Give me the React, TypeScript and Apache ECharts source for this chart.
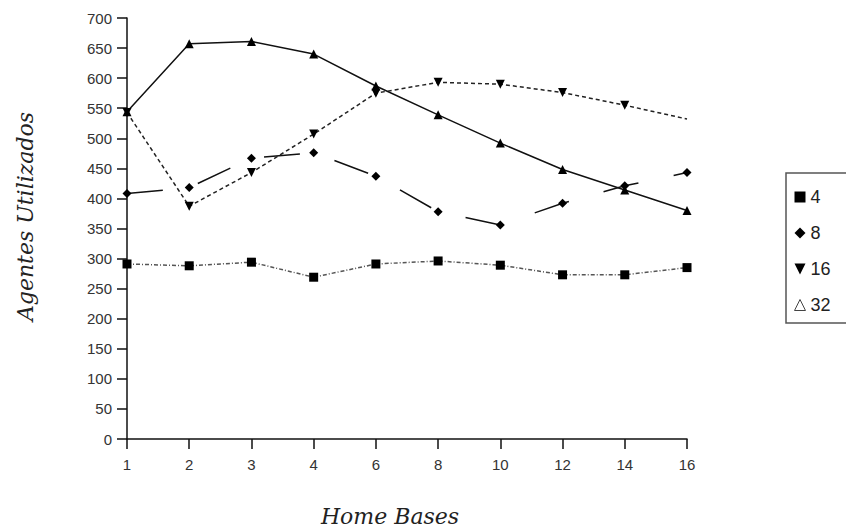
import React, { useEffect, useRef } from "react";
import * as echarts from "echarts";

const homeBases = ["1", "2", "3", "4", "6", "8", "10", "12", "14", "16"];
const s4 = [291, 288, 294, 269, 291, 296, 289, 273, 273, 285];
const s8 = [408, 418, 467, 476, 437, 378, 356, 392, 421, 443];
const s16 = [543, 387, 443, 507, 575, 593, 590, 576, 555, 532];
const s32 = [544, 657, 661, 640, 587, 539, 492, 448, 414, 380];
const yMin = 0;
const yMax = 700;
const yStep = 50;

const downTri = "path://M0,0 L10,0 L5,10 Z";

export default function App() {
  const ref = useRef<HTMLDivElement>(null);
  useEffect(() => {
    if (!ref.current) return;
    const chart = echarts.init(ref.current, null, { renderer: "svg" });
    const sans = "Liberation Sans";
    const serif = "DejaVu Serif";
    chart.setOption({
      animation: false,
      backgroundColor: "#ffffff",
      grid: {
        left: 127,
        top: 18,
        width: 560,
        height: 421,
        containLabel: false,
        outerBoundsMode: "none",
      },
      xAxis: {
        type: "category",
        data: homeBases,
        boundaryGap: false,
        name: "Home Bases",
        nameLocation: "middle",
        nameGap: 66,
        nameTextStyle: {
          fontFamily: serif,
          fontStyle: "italic",
          fontSize: 22,
          color: "#222",
          padding: [0, 34, 0, 0],
        },
        axisLine: { lineStyle: { color: "#111", width: 1.5 } },
        axisTick: { alignWithLabel: true, length: 10, lineStyle: { color: "#111", width: 1.5 } },
        axisLabel: { fontFamily: sans, fontSize: 15, color: "#333", margin: 18 },
        splitLine: { show: false },
      },
      yAxis: {
        type: "value",
        min: yMin,
        max: yMax,
        interval: yStep,
        name: "Agentes Utilizados",
        nameLocation: "middle",
        nameGap: 91,
        nameRotate: 90,
        nameTextStyle: {
          fontFamily: serif,
          fontStyle: "italic",
          fontSize: 22,
          color: "#222",
          padding: [0, 0, 0, 24],
        },
        axisLine: { show: true, lineStyle: { color: "#111", width: 1.5 } },
        axisTick: { show: true, length: 10, lineStyle: { color: "#111", width: 1.5 } },
        axisLabel: { fontFamily: sans, fontSize: 15, color: "#333", margin: 15 },
        splitLine: { show: false },
      },
      graphic: [
        {
          type: "rect",
          shape: { x: 786, y: 173, width: 120, height: 150 },
          style: { fill: "none", stroke: "#555", lineWidth: 1.5 },
          silent: true,
        },
      ],
      legend: {
        orient: "vertical",
        left: 786,
        top: 173,
        padding: [14, 4, 8, 8],
        itemWidth: 11,
        itemHeight: 11,
        itemGap: 16,
        textStyle: { fontFamily: sans, fontSize: 18, lineHeight: 20, color: "#222" },
        data: [
          { name: "4", icon: "rect", itemStyle: { color: "#000" } },
          { name: "8", icon: "diamond", itemStyle: { color: "#000" } },
          { name: "16", icon: downTri, itemStyle: { color: "#000" } },
          {
            name: "32",
            icon: "triangle",
            itemStyle: { color: "#fff", borderColor: "#444", borderWidth: 1 },
          },
        ],
      },
      series: [
        {
          name: "4",
          type: "line",
          data: s4,
          symbol: "rect",
          symbolSize: 9,
          itemStyle: { color: "#000" },
          lineStyle: { color: "#555", width: 1.5, type: [4, 2, 1, 2] },
        },
        {
          name: "8",
          type: "line",
          data: s8,
          symbol: "diamond",
          symbolSize: 9,
          itemStyle: { color: "#000" },
          lineStyle: { color: "#111", width: 1.5, type: [36, 36] },
        },
        {
          name: "16",
          type: "line",
          data: s16.map((v, i) =>
            i === s16.length - 1 ? { value: v, symbolSize: 0 } : v
          ),
          symbol: downTri,
          symbolSize: 9,
          itemStyle: { color: "#000" },
          lineStyle: { color: "#222", width: 1.5, type: [4, 3] },
        },
        {
          name: "32",
          type: "line",
          data: s32,
          symbol: "triangle",
          symbolSize: 9,
          itemStyle: { color: "#000" },
          lineStyle: { color: "#111", width: 1.5, type: "solid" },
        },
      ],
    });
    return () => chart.dispose();
  }, []);
  return (
    <div
      ref={ref}
      style={{ position: "absolute", left: 0, top: 0, width: 846, height: 531 }}
    />
  );
}
